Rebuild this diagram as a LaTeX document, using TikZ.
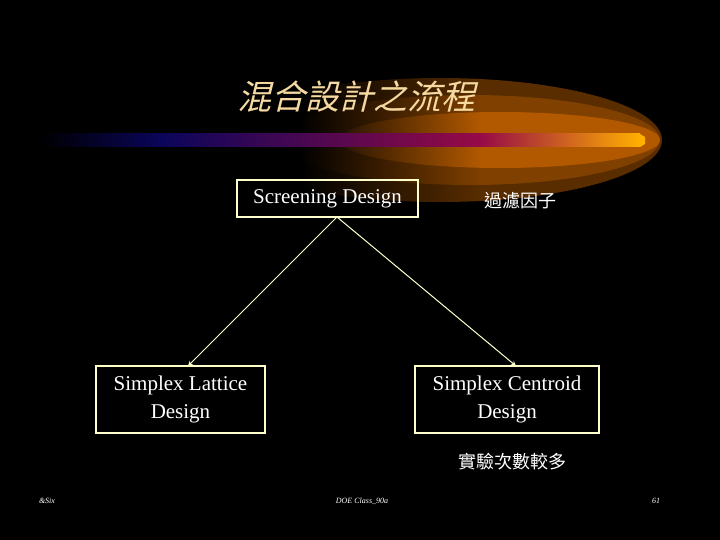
\documentclass[tikz,border=0pt]{standalone}
\usepackage{fontspec}
\setmainfont{Liberation Serif}
\newfontfamily\cjk{Noto Sans CJK TC}
\usetikzlibrary{arrows.meta,fadings}
\definecolor{cream}{HTML}{FFFFCC}
\definecolor{titlec}{HTML}{F5D9A0}
\definecolor{barblue}{RGB}{10,5,90}
\definecolor{barmag}{RGB}{150,10,70}
\definecolor{barorg}{RGB}{255,175,0}
\begin{document}
\begin{tikzpicture}[x=1pt,y=-1pt,
  box/.style={draw=cream,line width=1.2pt,text=white,align=center,font=\fontsize{21}{28}\selectfont,inner sep=0pt},
  conn/.style={draw=cream,line width=1pt,-{Stealth[length=5pt,width=5pt]}},
  foot/.style={text=white,font=\fontsize{8}{10}\selectfont\itshape}]
\useasboundingbox[fill=black] (0,0) rectangle (720,540);
% swoosh glow
\fill[orange!35!black] (440,140) ellipse [x radius=222, y radius=62];
\fill[orange!50!black] (470,140) ellipse [x radius=190, y radius=45];
\fill[orange!70!black] (500,140) ellipse [x radius=160, y radius=28];
\fill[black] (200,76) rectangle (300,204);
\fill[black,path fading=east] (299,76) rectangle (480,204);
% bar
\shade[left color=black,right color=barblue] (40,134) rectangle (160,147);
\shade[left color=barblue,right color=barmag] (159,134) rectangle (480,147);
\shade[left color=barmag,right color=barorg] (480,134) rectangle (640,147);
\fill[barorg] (640,134) -- (645,137) -- (645,144) -- (640,147) -- cycle;
% title
\node[text=titlec,font=\cjk\fontsize{34}{40}\selectfont,xslant=0.25] (title) at (360,97) {混合設計之流程};
% boxes
\node[box,minimum width=181,minimum height=37] (scr) at (327.5,198.5) {Screening Design};
\node[box,minimum width=169,minimum height=67] (lat) at (180.5,399.5) {Simplex Lattice\\Design};
\node[box,minimum width=184,minimum height=67] (cen) at (507,399.5) {Simplex Centroid\\Design};
\node[text=white,font=\cjk\fontsize{18}{20}\selectfont] (filt) at (520,201) {過濾因子};
\node[text=white,font=\cjk\fontsize{18}{20}\selectfont] (more) at (512,462) {實驗次數較多};
\coordinate (top) at (337,217);
\draw[conn] (top) -- (188,366) coordinate (la);
\draw[conn] (top) -- (516,366) coordinate (ca);
% footer
\node[foot] (f1) at (47,501) {\&Six};
\node[foot] (f2) at (362,501) {DOE Class\_90a};
\node[foot] (f3) at (656,501) {61};
\end{tikzpicture}
\end{document}
